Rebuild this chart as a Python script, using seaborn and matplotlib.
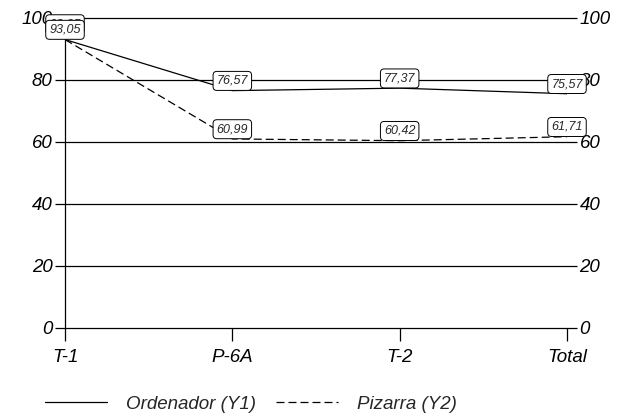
import matplotlib
matplotlib.use("Agg")
import matplotlib.pyplot as plt
import seaborn as sns
import pandas as pd

categories = ["T-1", "P-6A", "T-2", "Total"]
ordenador = [93.05, 76.57, 77.37, 75.57]
pizarra = [93.05, 60.99, 60.42, 61.71]
series_names = ["Ordenador (Y1)", "Pizarra (Y2)"]
y_ticks = [0, 20, 40, 60, 80, 100]

sns.set_theme(style="white")
plt.rcParams["font.family"] = ["Liberation Sans", "DejaVu Sans"]
plt.rcParams["font.style"] = "italic"

df = pd.DataFrame({
    "pos": list(range(len(categories))) * 2,
    "valor": ordenador + pizarra,
    "serie": [series_names[0]] * len(categories) + [series_names[1]] * len(categories),
})

fig = plt.figure(figsize=(6.21, 4.18), dpi=100)
ax = fig.add_axes([65 / 621, 1 - 328 / 418, (567 - 65) / 621, (328 - 18) / 418])

for y in y_ticks:
    ax.axhline(y, color="black", lw=0.9, zorder=1, clip_on=False)

sns.lineplot(data=df, x="pos", y="valor", hue="serie", style="serie",
             palette=["black", "black"],
             dashes={series_names[0]: "", series_names[1]: (6.4, 3.2)},
             lw=0.9, legend=False, ax=ax, zorder=2)

ax.set_xlim(0, len(categories) - 1)
ax.set_ylim(0, 100)
ax.set_xticks(range(len(categories)))
ax.set_xticklabels(categories, fontsize=13.5, style="italic")
ax.set_yticks(y_ticks)
ax.set_yticklabels([str(v) for v in y_ticks], fontsize=13.5, style="italic")
ax.set_xlabel("")
ax.set_ylabel("")
ax.tick_params(axis="y", left=True, right=True, labelright=True,
               length=7, width=0.9, color="black", pad=2, labelcolor="black")
ax.tick_params(axis="x", bottom=True, length=9, width=0.9, color="black",
               pad=6, labelcolor="black")
for side in ["top", "right", "bottom"]:
    ax.spines[side].set_visible(False)
ax.spines["left"].set_color("black")
ax.spines["left"].set_linewidth(0.9)

box = dict(boxstyle="round,pad=0.28,rounding_size=0.3", fc="white",
           ec="black", lw=0.7)

def fmt(v):
    return f"{v:.2f}".replace(".", ",")

# Pizarra labels (first one sits behind the Ordenador label)
for i, v in enumerate(pizarra):
    dy = 11 if i == 0 else 7
    ax.annotate(fmt(v), (i, v), xytext=(0, dy), textcoords="offset points",
                ha="center", va="center", fontsize=9, style="italic",
                bbox=box, zorder=3, annotation_clip=False)
for i, v in enumerate(ordenador):
    ax.annotate(fmt(v), (i, v), xytext=(0, 7), textcoords="offset points",
                ha="center", va="center", fontsize=9, style="italic",
                bbox=box, zorder=4, annotation_clip=False)

# Legend drawn beneath the plot
handles = [
    plt.Line2D([], [], color="black", lw=0.9),
    plt.Line2D([], [], color="black", lw=0.9, dashes=(6.4, 3.2)),
]
fig.legend(handles, series_names, loc="center", bbox_to_anchor=(0.404, 0.033),
           ncol=2, frameon=False, fontsize=13.5, handlelength=3.3,
           columnspacing=1.1, handletextpad=1.0)

fig.savefig("out.png", dpi=100)
